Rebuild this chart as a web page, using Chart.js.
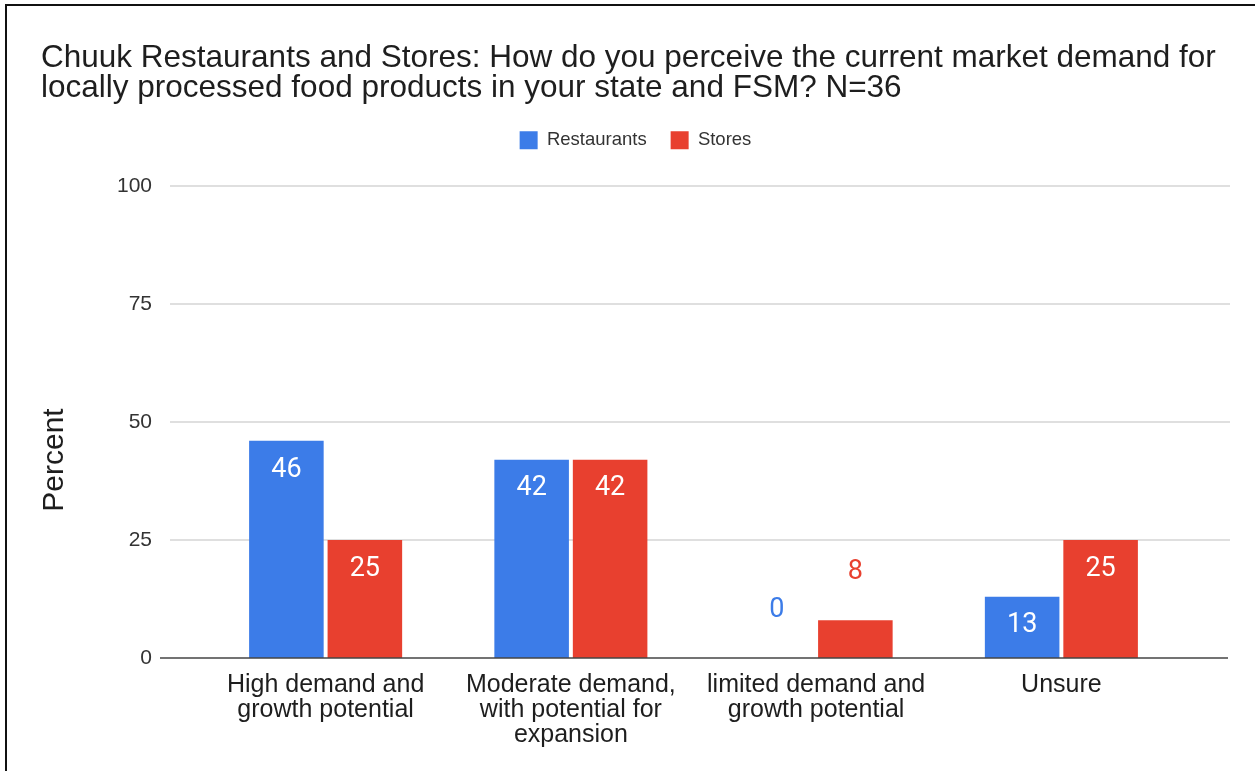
<!DOCTYPE html>
<html>
<head>
<meta charset="utf-8">
<title>Chuuk Restaurants and Stores – market demand</title>
<script src="https://cdn.jsdelivr.net/npm/chart.js"></script>
<style>
  html, body { margin: 0; padding: 0; background: #fff; }
  body { position: relative; width: 1255px; height: 771px; overflow: hidden;
         font-family: "Liberation Sans", Arial, sans-serif; }
  #chart { position: absolute; left: 0; top: 0; }
  /* thin black frame along the top and left edge */
  .frame { position: absolute; left: 5px; top: 4px; right: 0; bottom: 0;
           border-left: 2px solid #111; border-top: 2px solid #111; pointer-events: none; }
  .y-title { position: absolute; left: 53px; top: 460px; font-size: 30px; color: #1e1e1e;
             white-space: nowrap; transform: translate(-50%, -50%) rotate(-90deg); }
</style>
</head>
<body>
<canvas id="chart" width="1255" height="771"></canvas>
<div class="y-title">Percent</div>
<div class="frame"></div>

<script>
const FONT = '"Liberation Sans", Arial, sans-serif';
const BLUE = '#3c7ce8';
const RED = '#e8402f';

const titleLines = [
  'Chuuk Restaurants and Stores: How do you perceive the current market demand for',
  'locally processed food products in your state and FSM? N=36',
];
const categories = [
  ['High demand and', 'growth potential'],
  ['Moderate demand,', 'with potential for', 'expansion'],
  ['limited demand and', 'growth potential'],
  'Unsure',
];
const restaurants = [46, 42, 0, 13];
const stores = [25, 42, 8, 25];
const yTicks = [0, 25, 50, 75, 100];

// horizontal rules: light grid at each tick, dark baseline at 0.
// They run a bit wider than the plot area, like the sheet export does.
const rules = {
  id: 'rules',
  beforeDatasetsDraw(chart) {
    const { ctx, chartArea, scales: { y } } = chart;
    ctx.save();
    ctx.strokeStyle = '#d4d4d4';
    ctx.lineWidth = 1.5;
    y.ticks.forEach(t => {
      if (t.value === 0) return;
      const py = y.getPixelForValue(t.value);
      ctx.beginPath();
      ctx.moveTo(chartArea.left - 33, py);
      ctx.lineTo(chartArea.right + 46, py);
      ctx.stroke();
    });
    ctx.restore();
  },
  afterDatasetsDraw(chart) {
    const { ctx, chartArea, scales: { y } } = chart;
    const py = y.getPixelForValue(0);
    ctx.save();
    ctx.strokeStyle = '#444';
    ctx.lineWidth = 1.5;
    ctx.beginPath();
    ctx.moveTo(chartArea.left - 43, py);
    ctx.lineTo(chartArea.right + 44, py);
    ctx.stroke();
    ctx.restore();
  },
};

// value on each bar: white inside tall bars, series colour above short ones
const valueLabels = {
  id: 'valueLabels',
  afterDatasetsDraw(chart) {
    const { ctx } = chart;
    ctx.save();
    ctx.font = '27px Roboto, sans-serif';
    ctx.textAlign = 'center';
    ctx.textBaseline = 'middle';
    chart.data.datasets.forEach((ds, i) => {
      chart.getDatasetMeta(i).data.forEach((bar, j) => {
        const inside = bar.base - bar.y > 50;
        ctx.fillStyle = inside ? '#fff' : ds.backgroundColor;
        ctx.fillText(String(ds.data[j]), bar.x, inside ? bar.y + 29 : bar.y - 48);
      });
    });
    ctx.restore();
  },
};

new Chart(document.getElementById('chart'), {
  type: 'bar',
  data: {
    labels: categories,
    datasets: [
      { label: 'Restaurants', data: restaurants, backgroundColor: BLUE },
      { label: 'Stores', data: stores, backgroundColor: RED },
    ],
  },
  options: {
    responsive: false,
    animation: false,
    layout: { padding: { left: 41, right: 25, top: 0, bottom: 0 } },
    datasets: { bar: { categoryPercentage: 0.64, barPercentage: 0.95 } },
    plugins: {
      title: {
        display: true,
        text: titleLines,
        align: 'start',
        color: '#1e1e1e',
        font: { family: FONT, size: 31.5, weight: 'normal', lineHeight: 30 / 31.5 },
        padding: { top: 43, bottom: 4 },
      },
      legend: {
        labels: {
          boxWidth: 18, boxHeight: 18, padding: 24, color: '#333',
          font: { family: FONT, size: 18.5 },
        },
      },
      tooltip: { enabled: false },
    },
    scales: {
      x: {
        grid: { display: false, drawTicks: false },
        border: { display: false },
        ticks: {
          color: '#1e1e1e', padding: 15, maxRotation: 0, autoSkip: false,
          font: { family: FONT, size: 25, lineHeight: 1 },
        },
        afterFit(s) { s.height = 113; s.paddingRight = 71; },
      },
      y: {
        // a little headroom above the 100 line, below the legend
        min: 0, max: 105.6,
        grid: { display: false, drawTicks: false },
        border: { display: false },
        ticks: { color: '#333', padding: 51, font: { family: FONT, size: 21 } },
        afterBuildTicks(s) { s.ticks = yTicks.map(v => ({ value: v })); },
        afterFit(s) { s.width = 162; },
      },
    },
  },
  plugins: [rules, valueLabels],
});
</script>
</body>
</html>
